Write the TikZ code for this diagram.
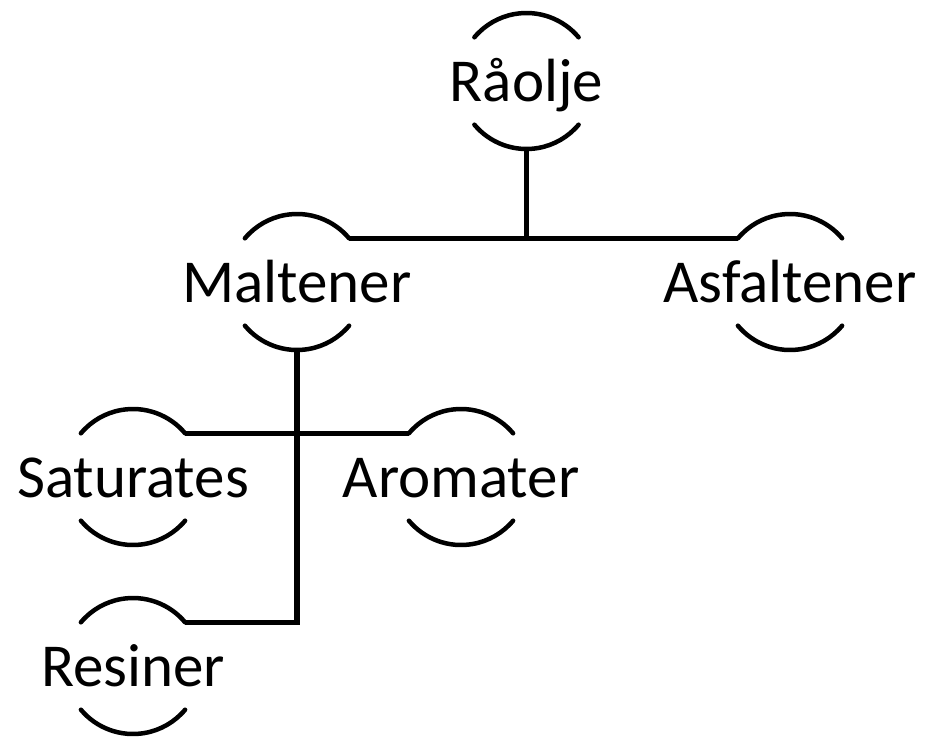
\documentclass[tikz,border=0pt]{standalone}
\usepackage{fontspec}
\setmainfont{Carlito}
\begin{document}
\begin{tikzpicture}[x=1pt,y=-1pt,
  lbl/.style={inner sep=0pt, text height=41pt, text depth=0pt, font=\fontsize{61}{72}\selectfont},
  arcline/.style={line width=4.5pt, line cap=round},
  conn/.style={line width=5.5pt}]
\useasboundingbox (0,0) rectangle (926,737);
\node[lbl] (r)   at (526.5,81) {Råolje};
\node[lbl] (m)   at (297,282) {Maltener};
\node[lbl] (a)   at (790,282) {Asfaltener};
\node[lbl] (s)   at (133,477) {Saturates};
\node[lbl] (ar)  at (461,477) {Aromater};
\node[lbl] (res) at (133,666) {Resiner};
\foreach \n in {r,m,a,s,ar,res}{
  \draw[arcline] ([shift={(40:68pt)}]\n.center) arc[start angle=40,end angle=140,radius=68pt];
  \draw[arcline] ([shift={(-140:68pt)}]\n.center) arc[start angle=-140,end angle=-40,radius=68pt];
  \coordinate (\n-tr) at ([shift={(40:68pt)}]\n.center);
  \coordinate (\n-tl) at ([shift={(140:68pt)}]\n.center);
  \coordinate (\n-b) at ([shift={(-90:68pt)}]\n.center);
}
\draw[conn] (m-tr) -- (a-tl);
\draw[conn] (r-b) -- (r-b |- m-tr);
\draw[conn] (s-tr) -- (ar-tl);
\draw[conn] (m-b) |- (res-tr);
\end{tikzpicture}
\end{document}
